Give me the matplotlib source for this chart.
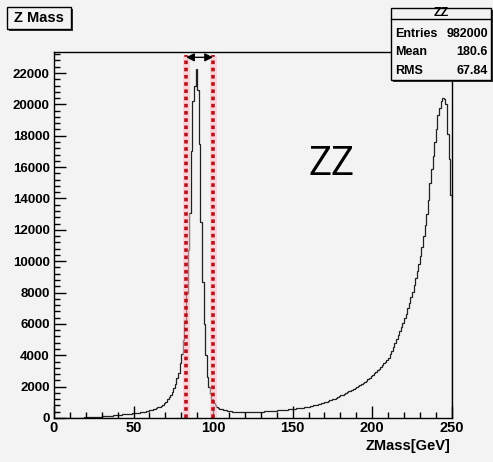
import numpy as np
import matplotlib
matplotlib.use("Agg")
from matplotlib import pyplot as plt
from matplotlib.patches import Rectangle
from matplotlib.ticker import MultipleLocator

# histogram of Z mass, 1 GeV bins from 0 to 250
bin_edges = np.arange(0, 251, 1)
counts = [
    # 0 - 39
    0, 0, 0, 0, 0, 0, 0, 0, 0, 0,
    0, 0, 0, 0, 0, 0, 10, 20, 25, 35,
    40, 45, 55, 60, 70, 75, 80, 85, 90, 95,
    100, 110, 115, 125, 130, 140, 150, 160, 175, 185,
    # 40 - 79
    200, 205, 215, 225, 235, 245, 255, 265, 280, 290,
    300, 315, 325, 340, 355, 370, 390, 410, 440, 465,
    490, 520, 550, 580, 620, 670, 730, 790, 860, 940,
    1050, 1200, 1320, 1480, 1640, 1900, 2180, 2550, 2900, 3500,
    # 80 - 119
    4100, 5000, 6200, 8000, 10700, 13100, 17000, 20200, 21200, 22230,
    20900, 17500, 12500, 8700, 6000, 4000, 2600, 2000, 1550, 1200,
    950, 820, 720, 650, 600, 560, 530, 500, 480, 460,
    440, 420, 410, 400, 390, 380, 370, 365, 370, 360,
    # 120 - 159
    355, 365, 360, 370, 365, 375, 380, 385, 390, 400,
    405, 410, 420, 425, 430, 440, 445, 455, 460, 470,
    480, 490, 500, 510, 515, 530, 540, 555, 565, 580,
    590, 600, 610, 620, 635, 650, 665, 680, 700, 720,
    # 160 - 199
    720, 745, 770, 800, 830, 860, 880, 910, 940, 970,
    1000, 1040, 1080, 1120, 1160, 1200, 1240, 1290, 1340, 1390,
    1440, 1490, 1540, 1590, 1640, 1690, 1750, 1800, 1860, 1920,
    1980, 2040, 2100, 2170, 2240, 2310, 2390, 2470, 2560, 2650,
    # 200 - 249
    2750, 2850, 2950, 3050, 3150, 3250, 3380, 3500, 3600, 3700,
    3850, 4050, 4300, 4550, 4800, 5050, 5300, 5550, 5800, 6050,
    6350, 6650, 7000, 7350, 7700, 8050, 8450, 8900, 9350, 9800,
    10300, 10900, 11600, 12300, 13000, 13900, 15000, 15900, 16700, 17600,
    18400, 19300, 19800, 20200, 20430, 20350, 20000, 18100, 16500, 14250,
]

window_low, window_high = 83, 100
stats_rows = [("Entries", "982000"), ("Mean", "180.6"), ("RMS", "67.84")]

W, H = 493, 462
bg = "#f3f3f3"
root_font = ["Liberation Sans", "DejaVu Sans"]


def fx(x):
    return x / W


def fy(y):
    return 1 - y / H


fig = plt.figure(figsize=(W / 100, H / 100), dpi=100, facecolor=bg)
ax = fig.add_axes([fx(54), fy(418), fx(451.7) - fx(54), fy(52) - fy(418)])
ax.set_facecolor(bg)

ax.stairs(counts, bin_edges, color="#202020", lw=0.9)

ax.set_xlim(0, 250)
ax.set_ylim(0, 23340)

# mass window
for xv in (window_low, window_high):
    ax.plot([xv, xv], [0, 23150], color="#ffc0c8", lw=5, alpha=0.6, solid_capstyle="butt")
    ax.plot([xv, xv], [0, 23150], color="#b5121b", lw=2.6, ls=(0, (1, 1)))
ax.annotate("", xy=(window_low, 23000), xytext=(window_high, 23000),
            arrowprops=dict(arrowstyle="<|-|>", color="black", lw=1,
                            mutation_scale=12, shrinkA=0, shrinkB=0))

ax.text(174.3, 16150, "ZZ", fontsize=29, family="Open Sans",
        ha="center", va="center", color="black")

# ROOT-like ticks
ax.xaxis.set_major_locator(MultipleLocator(50))
ax.xaxis.set_minor_locator(MultipleLocator(10))
ax.yaxis.set_major_locator(MultipleLocator(2000))
ax.yaxis.set_minor_locator(MultipleLocator(400))
ax.tick_params(which="major", direction="in", length=8.5, width=1, top=False, right=False)
ax.tick_params(which="minor", direction="in", length=4.3, width=1, top=False, right=False)
ax.tick_params(axis="x", pad=2)
ax.tick_params(axis="y", pad=3)
for lab in ax.get_xticklabels():
    lab.set_fontfamily(root_font)
    lab.set_fontweight("bold")
    lab.set_fontsize(10.5)
for lab in ax.get_yticklabels():
    lab.set_fontfamily(root_font)
    lab.set_fontweight("bold")
    lab.set_fontsize(9.5)
for sp in ax.spines.values():
    sp.set_linewidth(1)

fig.text(fx(451), fy(446), "ZMass[GeV]", ha="right", va="center",
         family=root_font, weight="bold", fontsize=10.5)

# title box
fig.patches.append(Rectangle((fx(8.5), fy(30.5)), fx(64), fy(8.5) - fy(30.5), transform=fig.transFigure,
                             facecolor="#333333", edgecolor="none"))
fig.patches.append(Rectangle((fx(7), fy(29)), fx(64), fy(7) - fy(29), transform=fig.transFigure,
                             facecolor=bg, edgecolor="black", lw=1))
fig.text(fx(39), fy(18), "Z Mass", ha="center", va="center",
         family=root_font, weight="bold", fontsize=10.5)

# stats box
fig.patches.append(Rectangle((fx(392.5), fy(81.5)), fx(100), fy(9.5) - fy(81.5), transform=fig.transFigure,
                             facecolor="#333333", edgecolor="none"))
fig.patches.append(Rectangle((fx(391), fy(80)), fx(100), fy(8) - fy(80), transform=fig.transFigure,
                             facecolor=bg, edgecolor="black", lw=1))
fig.lines.append(plt.Line2D([fx(391), fx(491)], [fy(18.5), fy(18.5)], transform=fig.transFigure,
                            color="black", lw=1))
fig.text(fx(441), fy(13), "ZZ", ha="center", va="center",
         family=root_font, weight="bold", fontsize=9)
for i, (name, val) in enumerate(stats_rows):
    yy = fy(34 + i * 18.3)
    fig.text(fx(395), yy, name, ha="left", va="center",
             family=root_font, weight="bold", fontsize=9)
    fig.text(fx(488), yy, val, ha="right", va="center",
             family=root_font, weight="bold", fontsize=9)

fig.savefig("out.png", dpi=100, facecolor=bg)
